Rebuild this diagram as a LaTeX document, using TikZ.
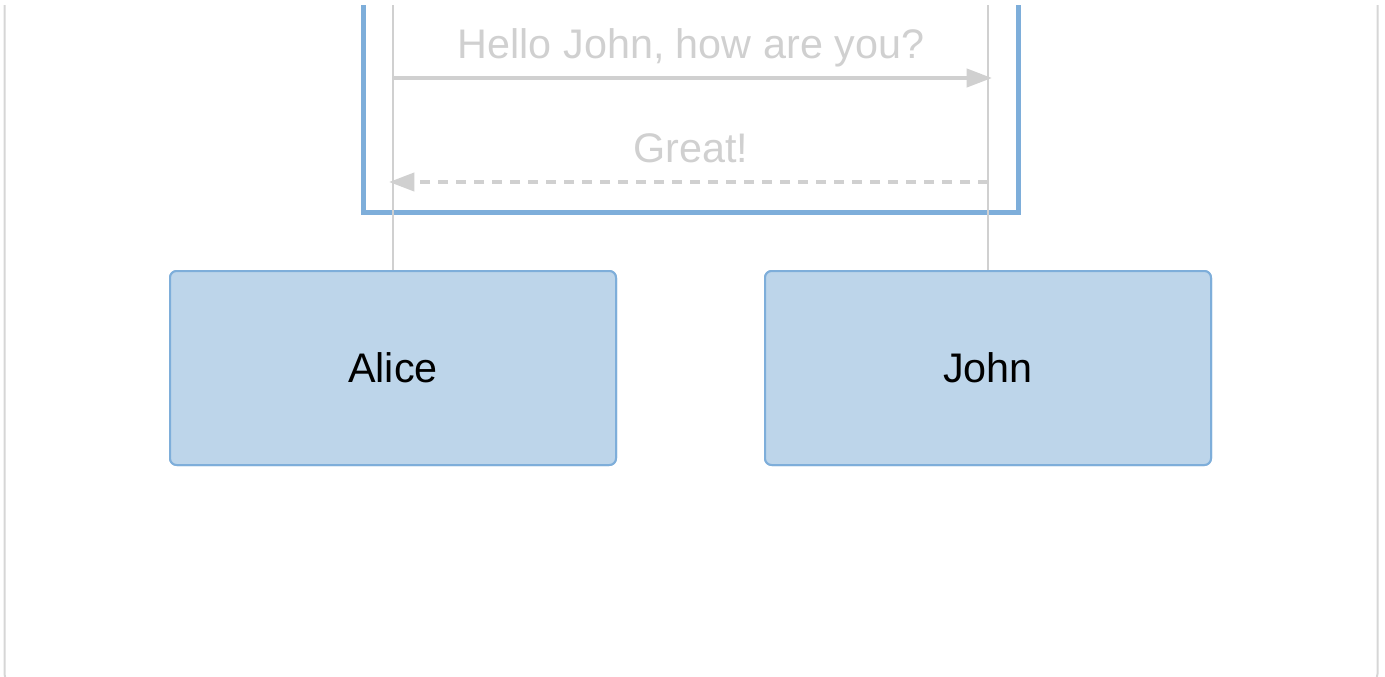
\documentclass[tikz,border=0pt]{standalone}
\usepackage{fontspec}
\setmainfont{Liberation Sans}
\usetikzlibrary{arrows.meta}
\definecolor{framegray}{HTML}{D6D6D6}
\definecolor{msggray}{HTML}{D0D0D0}
\definecolor{boxblue}{HTML}{7EAEDA}
\definecolor{boxfill}{HTML}{BDD5EA}
\tikzset{
  px/.style={x=0.75pt,y=-0.75pt},
  actor/.style={draw=boxblue, fill=boxfill, line width=1.5pt, rounded corners=5pt,
    minimum width=334.5pt, minimum height=145.5pt, inner sep=0pt,
    font=\fontsize{31}{37}\selectfont, text=black},
  lifeline/.style={draw=msggray, line width=1.2pt},
  msg/.style={draw=msggray, line width=3pt, -{Triangle[length=19pt,width=13.5pt]}},
  msgtext/.style={text=msggray, font=\fontsize{31}{37}\selectfont, inner sep=0pt, anchor=base},
  altframe/.style={draw=boxblue, line width=3.75pt},
  outerframe/.style={draw=framegray, line width=1.5pt, rounded corners=7.5pt}
}
\begin{document}
\begin{tikzpicture}[px]
\useasboundingbox (0,0) rectangle (1385,676);
\begin{scope}
  \clip (0,5.5) rectangle (1385,676);
  \draw[outerframe] (4.5,-30) rectangle (1377.5,684);
  \draw[altframe] (363.5,-30) rectangle (1018,212);
  % actors
  \node[actor] (alice) at (393,368) {Alice};
  \node[actor] (john) at (988,368) {John};
  \coordinate (atop) at (393,-30);
  \coordinate (jtop) at (988,-30);
  \draw[lifeline] (atop) -- (alice.north);
  \draw[lifeline] (jtop) -- (john.north);
  \coordinate (m1s) at (393,78);
  \coordinate (m1e) at (992,78);
  \coordinate (m2s) at (988,182);
  \coordinate (m2e) at (389,182);
  \draw[msg] (m1s) -- (m1e);
  \draw[msg, dash pattern=on 7.5pt off 6pt] (m2s) -- (m2e);
  \node[msgtext] (t1) at (691,58) {Hello John, how are you?};
  \node[msgtext] (t2) at (691,162) {Great!};
  % actors drawn over the lifelines
  \node[actor] at (alice) {Alice};
  \node[actor] at (john) {John};
\end{scope}
\end{tikzpicture}
\end{document}
